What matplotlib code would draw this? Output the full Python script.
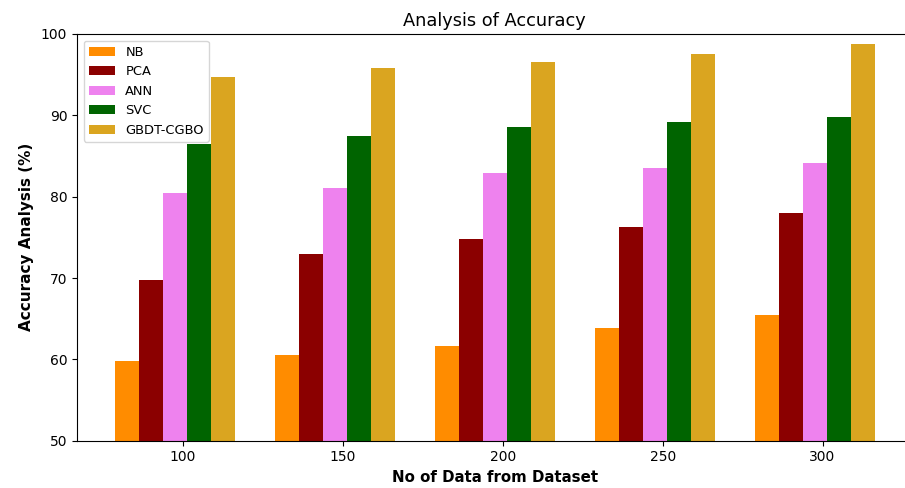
import numpy as np
import matplotlib
matplotlib.use('Agg')
import matplotlib.pyplot as plt

# dataset sizes on the x axis
sizes = ['100', '150', '200', '250', '300']

# accuracy (%) per method
nb = [59.8, 60.5, 61.6, 63.8, 65.4]
pca = [69.7, 73.0, 74.8, 76.3, 78.0]
ann = [80.5, 81.1, 82.9, 83.5, 84.2]
svc = [86.5, 87.5, 88.6, 89.2, 89.8]
gbdt = [94.7, 95.8, 96.5, 97.6, 98.8]

labels = ['NB', 'PCA', 'ANN', 'SVC', 'GBDT-CGBO']
colors = ['darkorange', 'darkred', 'violet', 'darkgreen', 'goldenrod']

barWidth = 0.15
r1 = np.arange(len(sizes))

fig = plt.figure(figsize=(9.05, 4.88), dpi=100)
ax = fig.add_axes([77 / 905, 1 - 440.7 / 488, (912.5 - 77) / 905, (440.7 - 34) / 488])

for k, (vals, lab, col) in enumerate(zip([nb, pca, ann, svc, gbdt], labels, colors)):
    ax.bar(r1 + k * barWidth, vals, width=barWidth, color=col, label=lab)

ax.set_ylim(50, 100)
ax.set_xticks(r1 + 0.35)
ax.set_xticklabels(sizes)
ax.spines['right'].set_visible(False)
ax.set_xlabel('No of Data from Dataset', fontweight='bold', fontsize=10.8)
ax.set_ylabel('Accuracy Analysis (%)', fontweight='bold', fontsize=11, labelpad=5)
ax.set_title('Analysis of Accuracy', fontsize=12.8)
ax.legend(loc='upper left', fontsize=9.4)

fig.savefig('out.png', dpi=100)
